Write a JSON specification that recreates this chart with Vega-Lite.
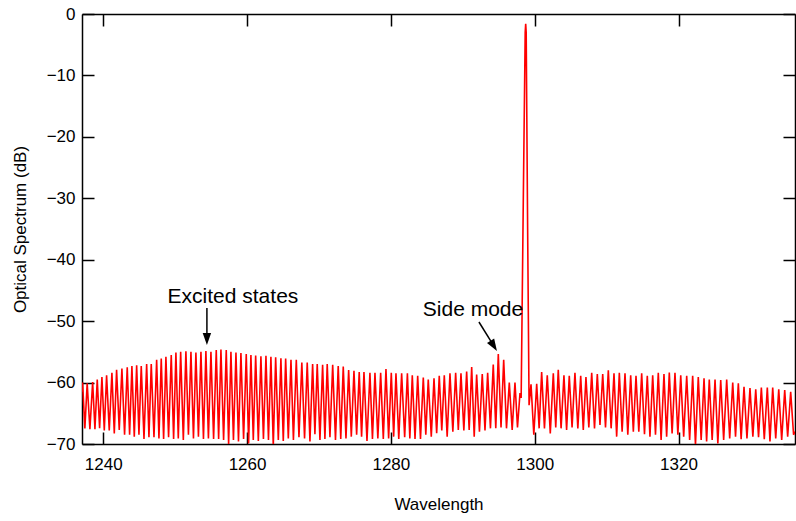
{
"$schema":"https://vega.github.io/schema/vega-lite/v6.json",
"width":713,"height":430,
"autosize":{"type":"none"},
"padding":{"left":82,"top":14,"right":1,"bottom":77},
"background":"white",
"config":{"view":{"stroke":null},"font":"Liberation Sans","axis":{"grid":false,"domainColor":"black","domainWidth":1.5,"tickColor":"black","tickWidth":1.5,"labelColor":"black","titleColor":"black","labelFont":"Liberation Sans","titleFont":"Liberation Sans","labelFontSize":17,"titleFontSize":17,"titleFontWeight":"normal","labelFlush":false,"labelOverlap":false}},
"datasets":{
"spec":[
{"w":1237.05,"d":-61.5},
{"w":1237.13,"d":-60.0},{"w":1237.45,"d":-67.45},{"w":1237.77,"d":-60.1},{"w":1238.15,"d":-67.6},{"w":1238.53,"d":-59.9},{"w":1238.85,"d":-67.6},{"w":1239.17,"d":-59.5},{"w":1239.50,"d":-67.45},{"w":1239.82,"d":-59.1},{"w":1240.15,"d":-67.8},{"w":1240.47,"d":-58.8},{"w":1240.84,"d":-67.8},{"w":1241.21,"d":-58.4},{"w":1241.54,"d":-68.3},{"w":1241.86,"d":-57.9},{"w":1242.23,"d":-67.7},{"w":1242.60,"d":-57.7},{"w":1242.97,"d":-68.5},{"w":1243.34,"d":-57.5},{"w":1243.67,"d":-68.5},{"w":1243.99,"d":-57.3},{"w":1244.32,"d":-68.8},{"w":1244.65,"d":-57.2},{"w":1244.97,"d":-68.5},{"w":1245.29,"d":-57.3},{"w":1245.67,"d":-69.2},{"w":1246.04,"d":-57.0},{"w":1246.36,"d":-68.9},{"w":1246.68,"d":-57.0},{"w":1247.06,"d":-68.9},{"w":1247.43,"d":-56.3},{"w":1247.75,"d":-69.1},{"w":1248.07,"d":-56.1},{"w":1248.40,"d":-69.2},{"w":1248.72,"d":-55.8},{"w":1249.09,"d":-68.9},{"w":1249.46,"d":-55.5},{"w":1249.79,"d":-69.2},{"w":1250.11,"d":-55.1},{"w":1250.44,"d":-69.1},{"w":1250.77,"d":-55.0},{"w":1251.14,"d":-69.35},{"w":1251.50,"d":-54.9},
{"w":1251.85,"d":-68.5},{"w":1252.20,"d":-55.0},{"w":1252.55,"d":-69.1},{"w":1252.89,"d":-55.1},{"w":1253.24,"d":-68.8},{"w":1253.59,"d":-55.0},{"w":1253.94,"d":-69.2},{"w":1254.28,"d":-54.85},{"w":1254.63,"d":-69.1},{"w":1254.98,"d":-55.0},{"w":1255.35,"d":-69.2},{"w":1255.72,"d":-54.7},{"w":1256.05,"d":-69.2},{"w":1256.37,"d":-54.6},{"w":1256.74,"d":-69.35},{"w":1257.11,"d":-54.7},{"w":1257.44,"d":-70.0},{"w":1257.76,"d":-55.0},{"w":1258.11,"d":-69.35},{"w":1258.46,"d":-55.1},{"w":1258.81,"d":-69.6},{"w":1259.15,"d":-55.2},{"w":1259.52,"d":-69.2},{"w":1259.89,"d":-55.35},{"w":1260.22,"d":-69.9},{"w":1260.54,"d":-55.5},{"w":1260.87,"d":-69.35},{"w":1261.20,"d":-55.6},{"w":1261.57,"d":-69.5},{"w":1261.93,"d":-55.7},{"w":1262.28,"d":-69.2},{"w":1262.63,"d":-55.65},{"w":1262.98,"d":-69.35},{"w":1263.32,"d":-55.8},{"w":1263.65,"d":-70.3},{"w":1263.98,"d":-55.9},{"w":1264.35,"d":-69.35},{"w":1264.71,"d":-56.05},{"w":1265.04,"d":-69.5},{"w":1265.37,"d":-56.1},{"w":1265.74,"d":-69.1},{"w":1266.11,"d":-56.3},
{"w":1266.45,"d":-69.35},{"w":1266.85,"d":-56.3},{"w":1267.22,"d":-68.9},{"w":1267.62,"d":-56.75},{"w":1268.00,"d":-69.1},{"w":1268.37,"d":-56.75},{"w":1268.75,"d":-69.6},{"w":1269.12,"d":-57.0},{"w":1269.44,"d":-68.4},{"w":1269.76,"d":-57.0},{"w":1270.14,"d":-69.35},{"w":1270.51,"d":-57.1},{"w":1270.83,"d":-69.2},{"w":1271.15,"d":-57.0},{"w":1271.53,"d":-68.9},{"w":1271.91,"d":-57.1},{"w":1272.30,"d":-69.35},{"w":1272.68,"d":-57.3},{"w":1273.03,"d":-69.2},{"w":1273.38,"d":-57.4},{"w":1273.76,"d":-69.1},{"w":1274.13,"d":-57.95},{"w":1274.50,"d":-68.8},{"w":1274.87,"d":-58.1},{"w":1275.24,"d":-68.5},{"w":1275.60,"d":-58.3},{"w":1275.93,"d":-68.8},{"w":1276.26,"d":-58.3},{"w":1276.68,"d":-69.5},{"w":1277.09,"d":-58.4},{"w":1277.44,"d":-69.2},{"w":1277.79,"d":-58.4},{"w":1278.19,"d":-69.1},{"w":1278.58,"d":-58.4},{"w":1278.95,"d":-69.2},{"w":1279.32,"d":-57.8},{"w":1279.69,"d":-69.1},{"w":1280.06,"d":-58.4},{"w":1280.39,"d":-68.8},{"w":1280.71,"d":-58.5},
{"w":1281.10,"d":-69.2},{"w":1281.50,"d":-58.5},{"w":1281.92,"d":-68.9},{"w":1282.30,"d":-58.5},{"w":1282.64,"d":-69.1},{"w":1282.98,"d":-58.8},{"w":1283.36,"d":-69.2},{"w":1283.73,"d":-58.9},{"w":1284.12,"d":-69.2},{"w":1284.51,"d":-59.2},{"w":1284.86,"d":-68.5},{"w":1285.20,"d":-59.5},{"w":1285.62,"d":-68.8},{"w":1286.00,"d":-59.3},{"w":1286.37,"d":-68.26},{"w":1286.73,"d":-58.9},{"w":1287.08,"d":-67.8},{"w":1287.43,"d":-58.8},{"w":1287.83,"d":-68.8},{"w":1288.22,"d":-58.5},{"w":1288.62,"d":-68.0},{"w":1289.01,"d":-58.4},{"w":1289.38,"d":-67.7},{"w":1289.75,"d":-58.5},{"w":1290.15,"d":-67.8},{"w":1290.54,"d":-58.2},{"w":1290.89,"d":-67.7},{"w":1291.24,"d":-57.45},{"w":1291.59,"d":-68.8},{"w":1291.93,"d":-58.7},{"w":1292.32,"d":-68.0},{"w":1292.71,"d":-58.6},{"w":1293.09,"d":-67.8},{"w":1293.46,"d":-58.4},{"w":1293.85,"d":-67.45},{"w":1294.24,"d":-57.05},{"w":1294.59,"d":-67.45},{"w":1294.94,"d":-55.35},{"w":1295.32,"d":-67.3},{"w":1295.69,"d":-56.3},{"w":1296.08,"d":-67.45},{"w":1296.47,"d":-60.0},{"w":1296.87,"d":-67.7},{"w":1297.26,"d":-60.0},{"w":1297.61,"d":-67.3},{"w":1297.96,"d":-61.7},
{"w":1298.12,"d":-62.5},{"w":1298.42,"d":-30},{"w":1298.68,"d":-3},{"w":1298.75,"d":-1.6},{"w":1298.82,"d":-3},{"w":1299.02,"d":-35},{"w":1299.22,"d":-63.7},
{"w":1299.49,"d":-60.3},{"w":1299.88,"d":-68.5},{"w":1300.28,"d":-60.2},{"w":1300.62,"d":-67.45},{"w":1300.97,"d":-58.3},{"w":1301.36,"d":-67.45},{"w":1301.75,"d":-58.8},{"w":1302.17,"d":-68.3},{"w":1302.59,"d":-58.5},{"w":1302.93,"d":-67.3},{"w":1303.28,"d":-57.9},{"w":1303.67,"d":-67.45},{"w":1304.07,"d":-58.8},{"w":1304.44,"d":-67.7},{"w":1304.81,"d":-58.9},{"w":1305.20,"d":-67.3},{"w":1305.60,"d":-58.4},{"w":1306.00,"d":-67.45},{"w":1306.40,"d":-58.9},{"w":1306.76,"d":-67.7},{"w":1307.13,"d":-59.1},{"w":1307.53,"d":-67.3},{"w":1307.93,"d":-58.4},{"w":1308.32,"d":-67.45},{"w":1308.71,"d":-58.6},{"w":1309.08,"d":-66.9},{"w":1309.46,"d":-58.6},{"w":1309.85,"d":-67.3},{"w":1310.24,"d":-58.0},{"w":1310.63,"d":-67.45},{"w":1311.03,"d":-58.5},{"w":1311.40,"d":-68.8},{"w":1311.77,"d":-58.4},{"w":1312.16,"d":-68.0},{"w":1312.56,"d":-58.5},{"w":1312.95,"d":-68.5},{"w":1313.35,"d":-58.8},{"w":1313.72,"d":-68.0},{"w":1314.09,"d":-58.9},{"w":1314.48,"d":-68.0},{"w":1314.88,"d":-58.5},{"w":1315.27,"d":-68.4},{"w":1315.66,"d":-58.9},{"w":1316.03,"d":-68.8},{"w":1316.41,"d":-58.8},{"w":1316.80,"d":-68.5},{"w":1317.19,"d":-58.4},{"w":1317.58,"d":-69.35},{"w":1317.98,"d":-58.6},{"w":1318.35,"d":-68.8},{"w":1318.72,"d":-58.35},{"w":1319.11,"d":-68.3},{"w":1319.51,"d":-58.4},{"w":1319.91,"d":-68.5},{"w":1320.31,"d":-58.8},{"w":1320.72,"d":-68.8},{"w":1321.14,"d":-58.9},{"w":1321.55,"d":-69.35},{"w":1321.97,"d":-58.9},{"w":1322.36,"d":-70.2},{"w":1322.75,"d":-59.1},{"w":1323.15,"d":-69.35},{"w":1323.55,"d":-59.3},{"w":1323.91,"d":-69.6},{"w":1324.28,"d":-59.5},{"w":1324.68,"d":-69.35},{"w":1325.08,"d":-59.5},{"w":1325.47,"d":-69.9},{"w":1325.87,"d":-59.6},{"w":1326.28,"d":-69.35},{"w":1326.70,"d":-59.5},{"w":1327.12,"d":-69.1},{"w":1327.54,"d":-60.0},{"w":1327.93,"d":-68.8},{"w":1328.32,"d":-60.1},{"w":1328.71,"d":-69.2},{"w":1329.11,"d":-60.7},{"w":1329.52,"d":-69.1},{"w":1329.94,"d":-60.9},{"w":1330.34,"d":-68.8},{"w":1330.74,"d":-61.1},{"w":1331.13,"d":-68.9},{"w":1331.52,"d":-60.8},{"w":1331.93,"d":-69.2},{"w":1332.35,"d":-60.8},{"w":1332.72,"d":-69.6},{"w":1333.10,"d":-60.8},{"w":1333.52,"d":-69.1},{"w":1333.94,"d":-61.1},{"w":1334.35,"d":-69.35},{"w":1334.77,"d":-61.2},{"w":1335.18,"d":-68.8},{"w":1335.60,"d":-61.5},{"w":1336.00,"d":-68.5},{"w":1336.20,"d":-68.0}
],
"arrows":[{"w":1254.42,"d":-47.86,"w2":1254.42,"d2":-52.3},{"w":1292.25,"d":-50.14,"w2":1294.31,"d2":-54.03}],
"heads":[{"w":1254.42,"d":-52.9,"a":0},{"w":1294.31,"d":-54.03,"a":-32}],
"labels":[{"w":1258.04,"d":-46.07,"t":"Excited states"},{"w":1291.42,"d":-48.2,"t":"Side mode"}]
},
"resolve":{"axis":{"x":"independent","y":"independent"}},
"layer":[
{"data":{"name":"spec"},"mark":{"type":"line","color":"#ff0000","strokeWidth":1.6,"clip":true},
"encoding":{
"x":{"field":"w","type":"quantitative","sort":null,"scale":{"domain":[1237.05,1336.2],"nice":false,"zero":false},
"axis":{"orient":"bottom","values":[1240,1260,1280,1300,1320],"format":"d","tickSize":-12,"labelPadding":24,"title":"Wavelength","titlePadding":24}},
"y":{"field":"d","type":"quantitative","scale":{"domain":[-70,0],"nice":false,"zero":false},
"axis":{"orient":"left","values":[-70,-60,-50,-40,-30,-20,-10,0],"format":"d","tickSize":-12,"labelPadding":19,"title":"Optical Spectrum (dB)","titlePadding":17}}
}},
{"data":{"name":"arrows"},"mark":{"type":"rule","color":"black","strokeWidth":1.5},
"encoding":{
"x":{"field":"w","type":"quantitative","axis":{"orient":"top","values":[1240,1260,1280,1300,1320],"labels":false,"tickSize":-12,"title":null}},
"y":{"field":"d","type":"quantitative","axis":{"orient":"right","values":[-70,-60,-50,-40,-30,-20,-10,0],"labels":false,"tickSize":-12,"title":null}},
"x2":{"field":"w2"},"y2":{"field":"d2"}
}},
{"data":{"name":"heads"},"mark":{"type":"point","filled":true,"color":"black","opacity":1,"shape":"M0,1L-0.7,-1L0.7,-1Z","size":144},
"encoding":{
"x":{"field":"w","type":"quantitative","axis":null},
"y":{"field":"d","type":"quantitative","axis":null},
"angle":{"field":"a","type":"quantitative","scale":null}
}},
{"data":{"name":"labels"},"mark":{"type":"text","fontSize":21,"font":"Liberation Sans","color":"black","align":"center","baseline":"middle"},
"encoding":{
"x":{"field":"w","type":"quantitative","axis":null},
"y":{"field":"d","type":"quantitative","axis":null},
"text":{"field":"t"}
}}
]
}
